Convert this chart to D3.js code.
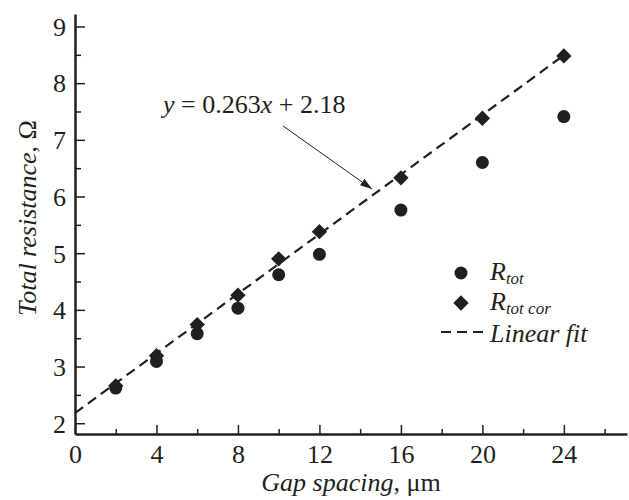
<!DOCTYPE html>
<html>
<head>
<meta charset="utf-8">
<script src="https://cdn.jsdelivr.net/npm/d3@7"></script>
<style>
  body { margin: 0; background: #fff; }
  svg { display: block; }
  text { font-family: 'Liberation Serif', 'Times New Roman', serif; fill: #231f20; }
  .tick text { font-size: 26px; }
  .axisTitle { font-size: 26px; }
</style>
</head>
<body>
<div id="chart"></div>
<script>
//Datos del gráfico
const gap = [2, 4, 6, 8, 10, 12, 16, 20, 24]
const rTot = [2.62, 3.09, 3.58, 4.03, 4.62, 4.98, 5.76, 6.6, 7.41]
const rTotCor = [2.66, 3.19, 3.74, 4.26, 4.9, 5.38, 6.33, 7.38, 8.48]
const fitSlope = 0.263
const fitIntercept = 2.18
const fitRange = [0, 24]
const xTicks = [0, 4, 8, 12, 16, 20, 24]
const yTicks = [2, 3, 4, 5, 6, 7, 8, 9]

//Constantes de la aplicación
const width = 629
const height = 500
const margin = { top: 14, right: 2, bottom: 66, left: 75 }
const ink = '#231f20'

const svg = d3.select('#chart')
    .append('svg')
    .attr('width', width)
    .attr('height', height)

//Escalas
const x = d3.scaleLinear()
    .domain([0, 27.1])
    .range([margin.left, width - margin.right])

const y = d3.scaleLinear()
    .domain([1.81, 9.22])
    .range([height - margin.bottom, margin.top])

//Ejes con ticks hacia dentro
const minorX = d3.range(2, 27, 4)
const minorY = d3.range(2.5, 9.1, 1)

svg.append('g')
    .attr('transform', `translate(0, ${y.range()[0]})`)
    .call(d3.axisTop(x).tickValues(minorX).tickSize(5).tickFormat(''))
    .call(g => g.select('.domain').remove())

svg.append('g')
    .attr('transform', `translate(${x.range()[0]}, 0)`)
    .call(d3.axisRight(y).tickValues(minorY).tickSize(6).tickFormat(''))
    .call(g => g.select('.domain').remove())

const axisX = svg.append('g')
    .attr('transform', `translate(0, ${y.range()[0]})`)
    .call(d3.axisTop(x).tickValues(xTicks).tickSize(9).tickSizeOuter(0))
axisX.selectAll('.tick text')
    .attr('y', 29)
    .attr('dy', 0)

const axisY = svg.append('g')
    .attr('transform', `translate(${x.range()[0]}, 0)`)
    .call(d3.axisRight(y).tickValues(yTicks).tickSize(10).tickSizeOuter(0))
axisY.selectAll('.tick text')
    .attr('x', -9)
    .attr('text-anchor', 'end')
    .attr('dy', '0.34em')

svg.selectAll('.domain').attr('stroke', ink).attr('stroke-width', 2.5)
svg.selectAll('.tick line').attr('stroke', ink).attr('stroke-width', 1.5)

//Títulos de los ejes
const titleX = svg.append('text')
    .attr('class', 'axisTitle')
    .attr('x', 351)
    .attr('y', 491)
    .attr('text-anchor', 'middle')
titleX.append('tspan').attr('font-style', 'italic').text('Gap spacing')
titleX.append('tspan').text(', μm')

const titleY = svg.append('text')
    .attr('class', 'axisTitle')
    .attr('transform', 'translate(36, 218) rotate(-90)')
    .attr('text-anchor', 'middle')
titleY.append('tspan').attr('font-style', 'italic').text('Total resistance')
titleY.append('tspan').text(', Ω')

//Recta de ajuste
svg.append('line')
    .attr('x1', x(fitRange[0]))
    .attr('y1', y(fitSlope * fitRange[0] + fitIntercept))
    .attr('x2', x(fitRange[1]))
    .attr('y2', y(fitSlope * fitRange[1] + fitIntercept))
    .attr('stroke', ink)
    .attr('stroke-width', 2.2)
    .attr('stroke-dasharray', '10,6')

//Puntos R_tot (círculos)
svg.append('g')
    .selectAll('circle')
    .data(gap)
    .enter()
    .append('circle')
    .attr('cx', d => x(d))
    .attr('cy', (d, i) => y(rTot[i]))
    .attr('r', 6.5)
    .attr('fill', ink)

//Puntos R_tot cor (rombos)
const diamond = d3.symbol().type(d3.symbolDiamond2).size(150)
svg.append('g')
    .selectAll('path')
    .data(gap)
    .enter()
    .append('path')
    .attr('d', diamond)
    .attr('transform', (d, i) => `translate(${x(d)}, ${y(rTotCor[i])})`)
    .attr('fill', ink)

//Anotación con la ecuación y la flecha
svg.append('defs')
    .append('marker')
    .attr('id', 'arrow')
    .attr('viewBox', '0 0 12 8')
    .attr('refX', 12)
    .attr('refY', 4)
    .attr('markerWidth', 12)
    .attr('markerHeight', 8)
    .attr('markerUnits', 'userSpaceOnUse')
    .attr('orient', 'auto')
    .append('path')
    .attr('d', 'M0,0 L12,4 L0,8 Z')
    .attr('fill', ink)

svg.append('line')
    .attr('x1', 283)
    .attr('y1', 126)
    .attr('x2', 372)
    .attr('y2', 189)
    .attr('stroke', ink)
    .attr('stroke-width', 1)
    .attr('marker-end', 'url(#arrow)')

const eq = svg.append('text')
    .attr('class', 'axisTitle')
    .attr('x', 163)
    .attr('y', 113)
eq.append('tspan').attr('font-style', 'italic').text('y')
eq.append('tspan').text(' = 0.263')
eq.append('tspan').attr('font-style', 'italic').text('x')
eq.append('tspan').text(' + 2.18')

//Leyenda
const legend = svg.append('g')
    .attr('transform', 'translate(461, 273)')

legend.append('circle')
    .attr('r', 6.5)
    .attr('fill', ink)
legend.append('path')
    .attr('d', diamond)
    .attr('transform', 'translate(0, 30)')
    .attr('fill', ink)
legend.append('line')
    .attr('x1', -20)
    .attr('x2', 24)
    .attr('y1', 59)
    .attr('y2', 59)
    .attr('stroke', ink)
    .attr('stroke-width', 2.2)
    .attr('stroke-dasharray', '10,6')

const labels = [['R', 'tot'], ['R', 'tot cor']]
labels.forEach((l, i) => {
    const t = legend.append('text')
        .attr('class', 'axisTitle')
        .attr('x', 29)
        .attr('y', i * 30 + 7)
        .attr('font-style', 'italic')
    t.append('tspan').text(l[0])
    t.append('tspan')
        .attr('dy', 4)
        .attr('font-size', '17px')
        .text(l[1])
})

legend.append('text')
    .attr('class', 'axisTitle')
    .attr('x', 29)
    .attr('y', 69)
    .attr('font-style', 'italic')
    .text('Linear fit')
</script>
</body>
</html>
